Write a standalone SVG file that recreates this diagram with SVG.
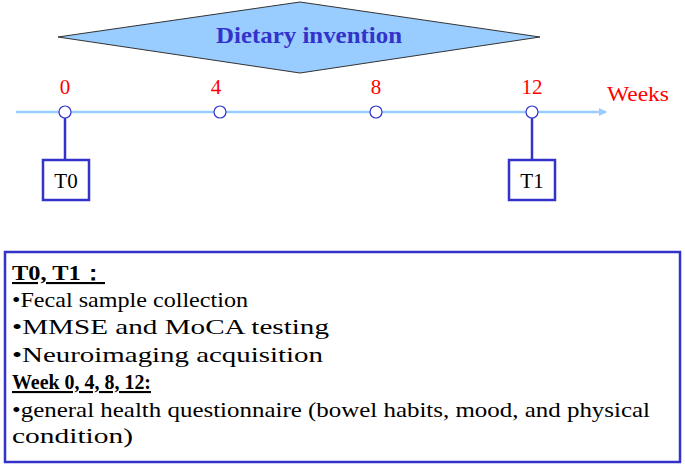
<svg xmlns="http://www.w3.org/2000/svg" width="685" height="468" viewBox="0 0 685 468">
<style>
text{font-family:"Liberation Serif","Times New Roman","DejaVu Serif",serif}
.t{font-size:21px;fill:#000}
.r{font-size:21px;fill:#ff0000;text-anchor:middle}
.box{fill:#fff;stroke:#3333cc;stroke-width:2.5}
.tick{fill:#fff;stroke:#3333cc;stroke-width:1.2}
.stem{stroke:#3333cc;stroke-width:2.5}
</style>
<defs><marker id="a" markerWidth="8" markerHeight="8" refX="7" refY="4" orient="auto" markerUnits="userSpaceOnUse"><path d="M0,0 L8,4 L0,8 Z" fill="#99ccff"/></marker></defs>
<g id="intervention"><polygon points="58,37 300,2 540,37 300,73" fill="#99ccff" stroke="#333" stroke-width="1"/>
<text x="309" y="38" dominant-baseline="middle" text-anchor="middle" font-size="23" font-weight="bold" fill="#3333cc" textLength="186" lengthAdjust="spacingAndGlyphs">Dietary invention</text></g>
<g id="connectors">
<line x1="16" y1="112" x2="606" y2="112" stroke="#99ccff" stroke-width="2.5" marker-end="url(#a)"/>
<line class="stem" x1="65" y1="118" x2="65" y2="160"/>
<line class="stem" x1="532" y1="118" x2="532" y2="160"/>
</g>
<g id="ticks">
<circle class="tick" cx="65" cy="112" r="6"/><circle class="tick" cx="220" cy="112" r="6"/><circle class="tick" cx="376" cy="112" r="6"/><circle class="tick" cx="532" cy="112" r="6"/>
<text class="r" x="65" y="94">0</text><text class="r" x="216" y="94">4</text><text class="r" x="376" y="94">8</text><text class="r" x="532" y="94">12</text>
<text class="r" x="638" y="101" textLength="62" lengthAdjust="spacingAndGlyphs">Weeks</text></g>
<g id="T0"><rect class="box" x="43" y="160" width="46" height="40"/><text class="t" x="66" y="188" text-anchor="middle">T0</text></g>
<g id="T1"><rect class="box" x="509" y="160" width="46" height="40"/><text class="t" x="532" y="188" text-anchor="middle">T1</text></g>
<g id="info"><rect class="box" x="5" y="252" width="675" height="210"/>
<text class="t" x="12" y="280" font-weight="bold" text-decoration="underline" textLength="93" lengthAdjust="spacingAndGlyphs">T0, T1：</text>
<text class="t" x="12" y="307" textLength="236" lengthAdjust="spacingAndGlyphs">•Fecal sample collection</text>
<text class="t" x="12" y="334" textLength="317" lengthAdjust="spacingAndGlyphs">•MMSE and MoCA testing</text>
<text class="t" x="12" y="362" textLength="311" lengthAdjust="spacingAndGlyphs">•Neuroimaging acquisition</text>
<text class="t" x="12" y="389" font-weight="bold" text-decoration="underline" textLength="139" lengthAdjust="spacingAndGlyphs">Week 0, 4, 8, 12:</text>
<text class="t" x="12" y="417" textLength="638" lengthAdjust="spacingAndGlyphs">•general health questionnaire (bowel habits, mood, and physical</text>
<text class="t" x="12" y="443" textLength="121" lengthAdjust="spacingAndGlyphs">condition)</text></g>
</svg>
